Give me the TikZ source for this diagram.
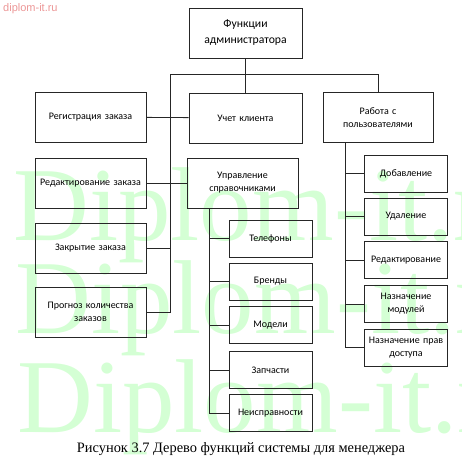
\documentclass[tikz,border=0pt]{standalone}
\usepackage{fontspec}
\setmainfont{Liberation Serif}
\newfontfamily\boxfont{Carlito}
\newfontfamily\markfont{Liberation Sans}
\usepackage{tikz}
\usetikzlibrary{positioning}

\definecolor{wmgreen}{RGB}{212,255,212}
\definecolor{wmpink}{RGB}{236,150,150}

\begin{document}
\begin{tikzpicture}[
  x=1pt, y=-1pt,
  func/.style={rectangle, draw=black!85, line width=0.8pt, minimum width=111pt, minimum height=50pt,
    text width=106pt, align=center, inner sep=1pt, font=\boxfont\fontsize{10}{13}\selectfont},
  leaf/.style={func, minimum width=83pt, minimum height=37pt, text width=81pt},
  conn/.style={draw=black!85, line width=0.8pt},
  wmtext/.style={anchor=base west, inner sep=0pt, text=wmgreen, font=\fontsize{105}{105}\selectfont}
]
\useasboundingbox (0,0) rectangle (462,460);
\clip (0,0) rectangle (462,460);

% watermark
\node[wmtext] (wm1) at (13,240) {Diplom-it.ru};
\node[wmtext] (wm2) at (15,333) {Diplom-it.ru};
\node[wmtext] (wm3) at (17,432) {Diplom-it.ru};
\node[anchor=north west, inner sep=0pt, text=wmpink, font=\markfont\fontsize{11}{11}\selectfont] (site) at (3,3) {diplom-it.ru};

% top level
\node[func, minimum width=113pt, font=\boxfont\fontsize{11.7}{16}\selectfont] (root) at (245.5,33) {Функции\\администратора};
\node[func] (reg) at (90.5,117) {Регистрация заказа};
\node[func, minimum width=113pt] (uchet) at (245.5,118) {Учет клиента};
\node[func, minimum width=110pt] (rabota) at (378,117.5) {Работа с\\пользователями};
\node[func] (red) at (90.5,183) {Редактирование заказа};
\node[func] (upr) at (242.5,183) {Управление\\справочниками};
\node[func] (zakr) at (90.5,248) {Закрытие заказа};
\node[func] (prog) at (90.5,312) {Прогноз количества\\заказов};

% directories
\node[leaf] (tel) at (270.5,238.5) {Телефоны};
\node[leaf] (brend) at (270.5,281.5) {Бренды};
\node[leaf] (model) at (270.5,325) {Модели};
\node[leaf] (zap) at (270.5,370) {Запчасти};
\node[leaf] (neis) at (270.5,413) {Неисправности};

% users
\node[leaf, minimum width=82pt] (dob) at (406,173.5) {Добавление};
\node[leaf, minimum width=82pt] (udal) at (406,216.5) {Удаление};
\node[leaf, minimum width=82pt] (redakt) at (406,260) {Редактирование};
\node[leaf, minimum width=82pt] (nazm) at (406,304) {Назначение\\модулей};
\node[leaf, minimum width=82pt] (nazp) at (406,347.5) {Назначение прав\\доступа};

% caption
\node[font=\fontsize{14.4}{16}\selectfont] (cap) at (241,449) {Рисунок 3.7 Дерево функций системы для менеджера};

% connectors
\coordinate (bus) at (170,74);
\coordinate (uprT) at (209,208);
\coordinate (rabT) at (345,142);

\draw[conn] (root) -- (uchet);
\draw[conn] (bus) -- (bus -| rabota) -- (rabota.north);
\draw[conn] (bus) |- (prog.east);
\draw[conn] (reg) -- (uchet);
\draw[conn] (red) -- (upr);
\draw[conn] (zakr.east) -- (zakr.east -| bus);

\draw[conn] (uprT) |- (neis.west);
\foreach \n in {tel,brend,model,zap}
  \draw[conn] (\n.west) -- (\n.west -| uprT);

\draw[conn] (rabT) |- (nazp.west);
\foreach \n in {dob,udal,redakt,nazm}
  \draw[conn] (\n.west) -- (\n.west -| rabT);

\end{tikzpicture}
\end{document}
